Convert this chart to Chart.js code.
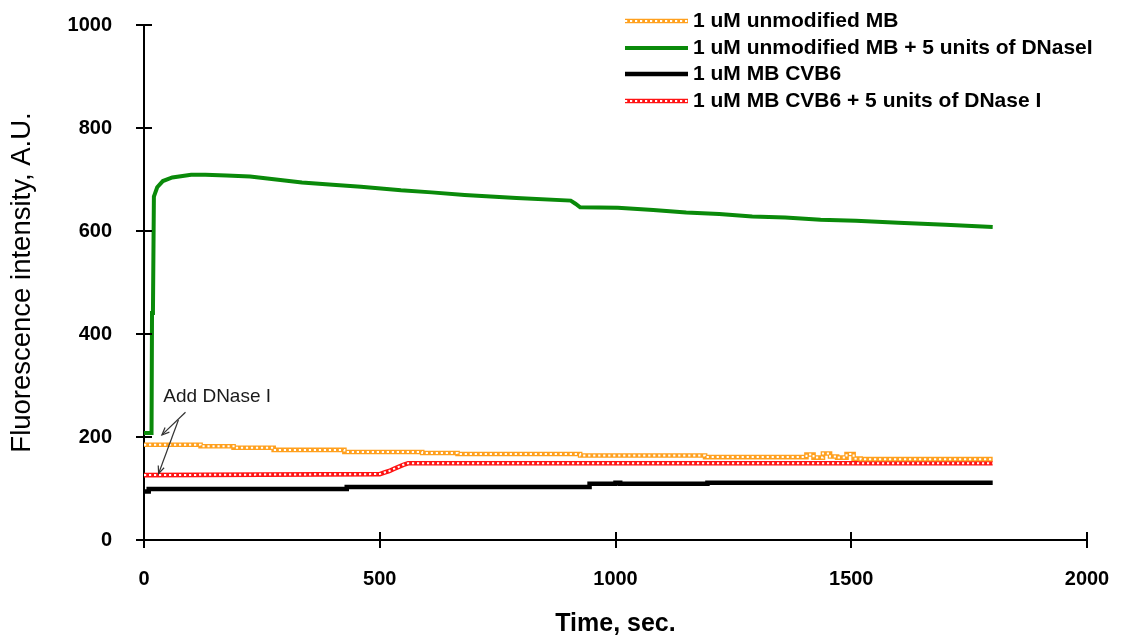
<!DOCTYPE html>
<html><head><meta charset="utf-8">
<script src="https://cdn.jsdelivr.net/npm/chart.js@4/dist/chart.umd.min.js"></script>
<style>html,body{margin:0;padding:0;background:#fff;}#wrap{width:1122px;height:641px;}</style>
</head><body><div id="wrap"><canvas id="c" width="1122" height="641"></canvas></div>
<script>
// ---- data ----
const seriesLabels = [
  '1 uM unmodified MB',
  '1 uM unmodified MB + 5 units of DNaseI',
  '1 uM MB CVB6',
  '1 uM MB CVB6 + 5 units of DNase I'
];
const xTickValues = [0, 500, 1000, 1500, 2000];
const yTickValues = [0, 200, 400, 600, 800, 1000];

const orangeTime  = [0, 120, 190, 275, 425, 590, 665, 925, 1190, 1405, 1420, 1440, 1455, 1470, 1490, 1505, 1520, 1800];
const orangeValue = [185, 182, 179, 175, 171, 169, 167, 164, 161, 166, 160, 168, 162, 160, 167, 158, 157, 157];

const greenTime  = [0, 16, 17, 19, 21, 28, 40, 60, 100, 130, 175, 225, 280, 335, 400, 460, 545, 610, 680, 790, 905, 915, 925, 1005, 1080, 1150, 1220, 1290, 1360, 1435, 1510, 1600, 1700, 1800];
const greenValue = [208, 208, 441, 445, 667, 685, 697, 704, 709, 709, 708, 706, 700, 694, 690, 686, 679, 675, 670, 664, 659, 653, 646, 645, 641, 636, 633, 628, 626, 622, 620, 616, 612, 608];

const blackTime  = [0, 10, 430, 945, 1000, 1010, 1195, 1800];
const blackValue = [94, 99, 103, 109, 111, 109, 111, 111];

const redTime  = [0, 500, 510, 520, 530, 540, 550, 560, 1800];
const redValue = [126, 128, 131, 134, 138, 142, 146, 149, 149];

const annotationText = 'Add DNase I';

// ---- build ----
const pts = (t, v) => t.map((x, i) => ({x: x, y: v[i]}));
const orangePts = pts(orangeTime, orangeValue);
const greenPts = pts(greenTime, greenValue);
const blackPts = pts(blackTime, blackValue);
const redPts = pts(redTime, redValue);

const ORANGE = '#FFA01E', GREEN = '#0A8A0A', RED = '#FF1414', BLACK = '#000000';
const CHAIN_W = 4.6, HOLE_W = 2, HOLE_DASH = [2.2, 2.8];

const legendStyles = [
  {color: ORANGE, chain: true},
  {color: GREEN, chain: false, w: 4},
  {color: BLACK, chain: false, w: 4.5},
  {color: RED, chain: true}
];

const base = {pointRadius: 0, fill: false, tension: 0};
const datasets = [
  Object.assign({}, base, {label: seriesLabels[0], data: orangePts, borderColor: ORANGE, borderWidth: CHAIN_W, stepped: 'before', order: 2}),
  Object.assign({}, base, {label: '_o', data: orangePts, borderColor: '#ffffff', borderWidth: HOLE_W, borderDash: HOLE_DASH, stepped: 'before', order: 1}),
  Object.assign({}, base, {label: seriesLabels[1], data: greenPts, borderColor: GREEN, borderWidth: 4, order: 5}),
  Object.assign({}, base, {label: seriesLabels[2], data: blackPts, borderColor: BLACK, borderWidth: 4.5, stepped: 'before', order: 5}),
  Object.assign({}, base, {label: seriesLabels[3], data: redPts, borderColor: RED, borderWidth: CHAIN_W, order: 4}),
  Object.assign({}, base, {label: '_r', data: redPts, borderColor: '#ffffff', borderWidth: HOLE_W, borderDash: HOLE_DASH, order: 3})
];

function arrow(ctx, x1, y1, x2, y2) {
  ctx.beginPath(); ctx.moveTo(x1, y1); ctx.lineTo(x2, y2); ctx.stroke();
  const a = Math.atan2(y2 - y1, x2 - x1), L = 8, s = 0.4;
  ctx.beginPath();
  ctx.moveTo(x2 - L * Math.cos(a - s), y2 - L * Math.sin(a - s));
  ctx.lineTo(x2, y2);
  ctx.lineTo(x2 - L * Math.cos(a + s), y2 - L * Math.sin(a + s));
  ctx.stroke();
}

const decor = {
  id: 'decor',
  afterDraw(chart) {
    const {ctx, chartArea: ca, scales: {x, y}} = chart;
    ctx.save();
    ctx.strokeStyle = '#000'; ctx.lineWidth = 2; ctx.setLineDash([]);
    yTickValues.forEach(v => { const py = Math.round(y.getPixelForValue(v)); ctx.beginPath(); ctx.moveTo(ca.left - 8, py); ctx.lineTo(ca.left + 8, py); ctx.stroke(); });
    xTickValues.forEach(v => { const px = Math.round(x.getPixelForValue(v)); ctx.beginPath(); ctx.moveTo(px, ca.bottom - 8); ctx.lineTo(px, ca.bottom + 8); ctx.stroke(); });
    // annotation
    ctx.fillStyle = '#1a1a1a';
    ctx.font = '19px "Liberation Sans", Arial, sans-serif';
    ctx.textBaseline = 'middle'; ctx.textAlign = 'left';
    ctx.fillText(annotationText, x.getPixelForValue(41), y.getPixelForValue(278));
    ctx.strokeStyle = '#333'; ctx.lineWidth = 1.2;
    arrow(ctx, x.getPixelForValue(88), y.getPixelForValue(248), x.getPixelForValue(38), y.getPixelForValue(204));
    arrow(ctx, x.getPixelForValue(73), y.getPixelForValue(233), x.getPixelForValue(31), y.getPixelForValue(129));
    // legend
    const rows = [21, 48, 74, 101];
    const sx0 = 625, sx1 = 688, tx = 693;
    ctx.font = 'bold 21px "Liberation Sans", Arial, sans-serif';
    seriesLabels.forEach((lab, i) => {
      const st = legendStyles[i], yy = rows[i];
      ctx.setLineDash([]);
      ctx.strokeStyle = st.color;
      ctx.lineWidth = st.chain ? CHAIN_W : st.w;
      ctx.beginPath(); ctx.moveTo(sx0, yy); ctx.lineTo(sx1, yy); ctx.stroke();
      if (st.chain) {
        ctx.strokeStyle = '#fff'; ctx.lineWidth = HOLE_W; ctx.setLineDash(HOLE_DASH);
        ctx.beginPath(); ctx.moveTo(sx0, yy); ctx.lineTo(sx1, yy); ctx.stroke();
        ctx.setLineDash([]);
      }
      ctx.fillStyle = '#000';
      ctx.fillText(lab, tx, yy);
    });
    ctx.restore();
  }
};

const FAM = '"Liberation Sans", Arial, sans-serif';
const tickFont = {family: FAM, size: 20, weight: 'bold'};

new Chart(document.getElementById('c'), {
  type: 'line',
  data: {datasets: datasets},
  options: {
    responsive: false, animation: false, devicePixelRatio: 1,
    layout: {padding: {left: 0, right: 35, top: 25, bottom: 0}},
    plugins: {legend: {display: false}, tooltip: {enabled: false}},
    scales: {
      x: {
        type: 'linear', min: 0, max: 2000,
        afterBuildTicks: s => { s.ticks = xTickValues.map(v => ({value: v})); },
        afterFit: s => { s.height = 101; s.paddingLeft = 0; s.paddingRight = 0; },
        ticks: {color: '#000', font: tickFont, padding: 27, maxRotation: 0, callback: v => String(v)},
        grid: {display: true, drawOnChartArea: false, drawTicks: false},
        border: {display: true, color: '#000', width: 2},
        title: {display: true, text: 'Time, sec.', color: '#000', font: {family: FAM, size: 25, weight: 'bold', lineHeight: 1}, padding: {top: 0, bottom: 4}}
      },
      y: {
        type: 'linear', min: 0, max: 1000,
        afterBuildTicks: s => { s.ticks = yTickValues.map(v => ({value: v})); },
        afterFit: s => { s.width = 144; s.paddingTop = 0; s.paddingBottom = 0; },
        ticks: {color: '#000', font: tickFont, padding: 32, callback: v => String(v)},
        grid: {display: true, drawOnChartArea: false, drawTicks: false},
        border: {display: true, color: '#000', width: 2},
        title: {display: true, text: 'Fluorescence intensity, A.U.', color: '#000', font: {family: FAM, size: 27.5, weight: 'normal', lineHeight: 1}, padding: {top: 9, bottom: 0}}
      }
    }
  },
  plugins: [decor]
});
</script></body></html>
